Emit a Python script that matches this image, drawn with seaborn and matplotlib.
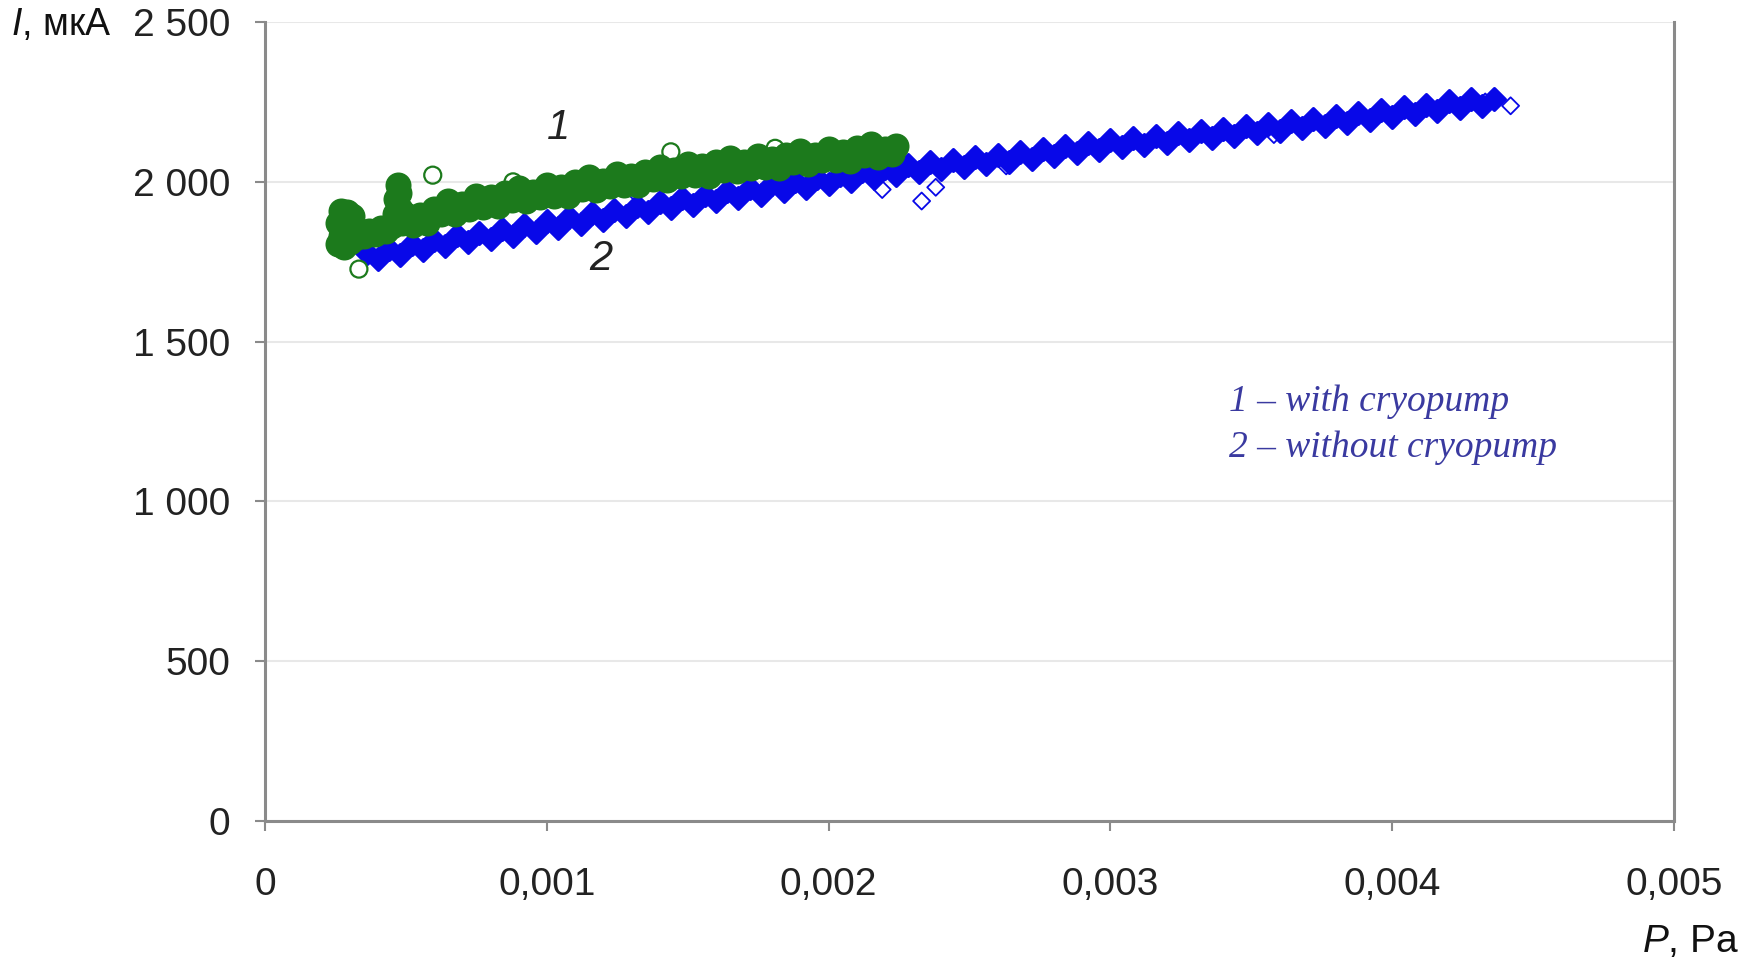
import numpy as np
import pandas as pd
import matplotlib
matplotlib.use("Agg")
import matplotlib.pyplot as plt
import seaborn as sns
from matplotlib.ticker import FuncFormatter

# pressure values are typed in units of 1e-3 Pa, current in мкА

# curve 1 - with cryopump (dense band)
p1_band = [0.26, 0.26, 0.27, 0.27, 0.28, 0.28, 0.29, 0.29, 0.30, 0.30, 0.31, 0.31,
           0.32, 0.33, 0.35, 0.37, 0.39, 0.41, 0.43, 0.45,
           0.46, 0.465, 0.47, 0.475, 0.48, 0.485, 0.47,
           0.500, 0.525, 0.550, 0.575, 0.600, 0.625, 0.650, 0.675, 0.700, 0.725,
           0.750, 0.775, 0.800, 0.825, 0.850, 0.875, 0.900, 0.925, 0.950, 0.975,
           1.000, 1.025, 1.050, 1.075, 1.100, 1.125, 1.150, 1.175, 1.200, 1.225,
           1.250, 1.275, 1.300, 1.325, 1.350, 1.375, 1.400, 1.425, 1.450, 1.475,
           1.500, 1.525, 1.550, 1.575, 1.600, 1.625, 1.650, 1.675, 1.700, 1.725,
           1.750, 1.775, 1.800, 1.825, 1.850, 1.875, 1.900, 1.925, 1.950, 1.975,
           2.000, 2.025, 2.050, 2.075, 2.100, 2.125, 2.150, 2.175, 2.200, 2.225, 2.240]
i1_band = [1805, 1870, 1910, 1830, 1885, 1795, 1850, 1905, 1812, 1868, 1838, 1892,
           1825, 1850, 1830, 1845, 1838, 1855, 1845, 1862,
           1900, 1945, 1990, 1965, 1915, 1870, 1880,
           1895, 1864, 1896, 1870, 1915, 1898, 1939, 1900, 1930, 1916,
           1957, 1921, 1953, 1925, 1966, 1944, 1981, 1940, 1968, 1952,
           1990, 1955, 1984, 1955, 1999, 1978, 2015, 1975, 2003, 1987,
           2025, 1990, 2019, 1989, 2032, 2010, 2048, 2007, 2036, 2019,
           2056, 2020, 2049, 2018, 2061, 2038, 2075, 2033, 2061, 2044,
           2081, 2045, 2073, 2043, 2085, 2062, 2098, 2056, 2084, 2067,
           2103, 2067, 2095, 2064, 2106, 2083, 2119, 2077, 2104, 2087, 2112]
p1_stray = [0.333, 0.595, 0.88, 1.44, 1.81, 2.00]
i1_stray = [1727, 2021, 2000, 2094, 2105, 2108]

# curve 2 - without cryopump
p2_band = [0.36, 0.40, 0.44, 0.48, 0.52, 0.56, 0.60, 0.64, 0.68, 0.72,
           0.76, 0.80, 0.84, 0.88, 0.92, 0.96, 1.00, 1.04, 1.08, 1.12,
           1.16, 1.20, 1.24, 1.28, 1.32, 1.36, 1.40, 1.44, 1.48, 1.52,
           1.56, 1.60, 1.64, 1.68, 1.72, 1.76, 1.80, 1.84, 1.88, 1.92,
           1.96, 2.00, 2.04, 2.08, 2.12, 2.16, 2.20, 2.24, 2.28, 2.32,
           2.36, 2.40, 2.44, 2.48, 2.52, 2.56, 2.60, 2.64, 2.68, 2.72,
           2.76, 2.80, 2.84, 2.88, 2.92, 2.96, 3.00, 3.04, 3.08, 3.12,
           3.16, 3.20, 3.24, 3.28, 3.32, 3.36, 3.40, 3.44, 3.48, 3.52,
           3.56, 3.60, 3.64, 3.68, 3.72, 3.76, 3.80, 3.84, 3.88, 3.92,
           3.96, 4.00, 4.04, 4.08, 4.12, 4.16, 4.20, 4.24, 4.28, 4.32, 4.36]
i2_band = [1778, 1758, 1790, 1771, 1806, 1787, 1818, 1800, 1833, 1811,
           1840, 1822, 1853, 1831, 1864, 1843, 1877, 1856, 1889, 1868,
           1901, 1880, 1913, 1892, 1925, 1905, 1937, 1917, 1948, 1927,
           1960, 1939, 1970, 1950, 1981, 1960, 1992, 1971, 2003, 1982,
           2013, 1992, 2023, 2002, 2034, 2013, 2044, 2022, 2053, 2031,
           2061, 2039, 2069, 2047, 2077, 2055, 2085, 2062, 2094, 2071,
           2103, 2081, 2112, 2090, 2121, 2099, 2130, 2108, 2138, 2115,
           2145, 2122, 2152, 2130, 2159, 2137, 2166, 2144, 2174, 2152,
           2182, 2160, 2190, 2168, 2198, 2176, 2206, 2184, 2215, 2193,
           2224, 2203, 2233, 2212, 2242, 2221, 2252, 2230, 2258, 2237, 2260]
p2_stray = [1.31, 2.19, 2.33, 2.38, 2.63, 3.58, 4.33, 4.42]
i2_stray = [1969, 1976, 1940, 1983, 2050, 2148, 2250, 2238]

y_ticks = [0, 500, 1000, 1500, 2000, 2500]
x_ticks = [0, 0.001, 0.002, 0.003, 0.004, 0.005]

green = "#1c7a1c"
blue = "#0808e8"
legend_col = "#3a3aa0"

band1 = pd.DataFrame({"P": np.array(p1_band) * 1e-3, "I": i1_band})
stray1 = pd.DataFrame({"P": np.array(p1_stray) * 1e-3, "I": i1_stray})
band2 = pd.DataFrame({"P": np.array(p2_band) * 1e-3, "I": i2_band})
stray2 = pd.DataFrame({"P": np.array(p2_stray) * 1e-3, "I": i2_stray})

sns.set_style("white")
plt.rcParams["font.family"] = ["Liberation Sans", "DejaVu Sans"]
plt.rcParams["mathtext.fontset"] = "custom"
plt.rcParams["mathtext.it"] = "Liberation Sans:italic"
plt.rcParams["mathtext.rm"] = "Liberation Sans"

fig = plt.figure(figsize=(17.52, 9.6), dpi=100)
ax = fig.add_axes([0.1513, 0.1448, 0.8042, 0.8322])

sns.scatterplot(data=band2, x="P", y="I", ax=ax, marker="D", s=120,
                color=blue, edgecolor=blue, linewidth=2.5)
sns.scatterplot(data=stray2, x="P", y="I", ax=ax, marker="D", s=75,
                facecolor="none", edgecolor=blue, linewidth=1.3)
sns.scatterplot(data=band1, x="P", y="I", ax=ax, marker="o", s=280,
                color=green, edgecolor=green, linewidth=2.0)
sns.scatterplot(data=stray1, x="P", y="I", ax=ax, marker="o", s=150,
                facecolor="none", edgecolor=green, linewidth=1.6)

ax.set_xlim(0, 0.005)
ax.set_ylim(0, 2500)
ax.set_xticks(x_ticks)
ax.set_yticks(y_ticks)
ax.xaxis.set_major_formatter(FuncFormatter(lambda v, _: "0" if v == 0 else f"{v:.3f}".replace(".", ",")))
ax.yaxis.set_major_formatter(FuncFormatter(lambda v, _: f"{int(v):,}".replace(",", " ")))
ax.set_xlabel("")
ax.set_ylabel("")

ax.yaxis.grid(True, color="#e8e8e8", linewidth=1.5)
ax.xaxis.grid(False)
for side in ["left", "bottom", "right"]:
    ax.spines[side].set_color("#8a8a8a")
    ax.spines[side].set_linewidth(2.2)
ax.spines["top"].set_visible(False)

ax.tick_params(axis="both", direction="out", length=7, width=1.5, color="#8a8a8a",
               labelsize=28, labelcolor="#222222")
ax.tick_params(axis="x", pad=26)
ax.tick_params(axis="y", pad=18, left=True)
ax.tick_params(axis="x", bottom=True)

# curve numbers
ax.text(0.00104, 2168, "1", fontsize=30, style="italic", color="#222222",
        ha="center", va="center")
ax.text(0.00119, 1758, "2", fontsize=30, style="italic", color="#222222",
        ha="center", va="center")

# legend written as plain text
ax.text(0.00342, 1311, "1 – with cryopump", fontsize=27, style="italic",
        family="Liberation Serif", color=legend_col, ha="left", va="center")
ax.text(0.00342, 1167, "2 – without cryopump", fontsize=27, style="italic",
        family="Liberation Serif", color=legend_col, ha="left", va="center")

# axis titles
fig.text(0.006, 0.974, "$\\mathit{I}$, мкА", fontsize=27, color="#111111", ha="left", va="center")
fig.text(0.9926, 0.019, "$\\mathit{P}$, Pa", fontsize=28, color="#111111", ha="right", va="center")

fig.savefig("out.png", dpi=100)
